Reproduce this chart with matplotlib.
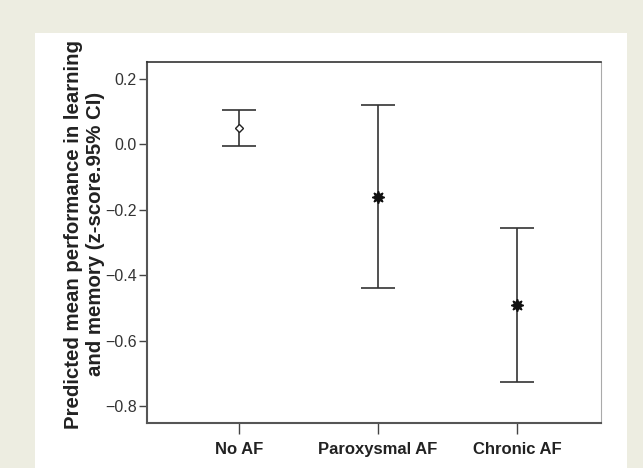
import matplotlib.pyplot as plt
import matplotlib.patches as mpatches

groups = ['No AF', 'Paroxysmal AF', 'Chronic AF']
means = [0.05, -0.16, -0.49]
upper = [0.105, 0.12, -0.255]
lower = [-0.005, -0.44, -0.727]
yticks = [0.2, 0.0, -0.2, -0.4, -0.6, -0.8]

plt.rcParams['font.family'] = ['Liberation Sans', 'DejaVu Sans']

fig = plt.figure(figsize=(6.43, 4.68), dpi=100)
fig.patch.set_facecolor('#edede1')
# white panel behind the chart
fig.patches.append(mpatches.Rectangle((35 / 643, 0), (627 - 35) / 643, (468 - 33) / 468,
                                      transform=fig.transFigure, facecolor='white',
                                      edgecolor='none', zorder=-10))

ax = fig.add_axes([147 / 643, 1 - 423 / 468, (601 - 147) / 643, (423 - 62) / 468])
ax.set_facecolor('white')
x = [1, 2, 3]
yerr = [[m - l for m, l in zip(means, lower)], [u - m for m, u in zip(means, upper)]]
ax.errorbar(x, means, yerr=yerr, fmt='none', ecolor='#333333', elinewidth=1.2,
            capsize=12, capthick=1.2)
ax.plot(x[0], means[0], marker='D', markersize=4.5, markerfacecolor='white',
        markeredgecolor='#222222', markeredgewidth=1, linestyle='none', zorder=3)
ax.plot(x[1:], means[1:], marker=(8, 1, 0), markersize=9, color='#111111',
        linestyle='none', zorder=3)

ax.set_xlim(0.338, 3.604)
ax.set_ylim(-0.852, 0.252)
ax.set_xticks(x)
ax.set_xticklabels(groups, fontsize=12, fontweight='bold', color='#222222')
ax.set_yticks(yticks)
ax.set_yticklabels(['0.2', '0.0', '\u22120.2', '\u22120.4', '\u22120.6', '\u22120.8'],
                   fontsize=11.5, color='#333333')
ax.tick_params(axis='x', length=8, width=1, color='#444444', pad=6)
ax.tick_params(axis='y', length=6, width=1, color='#444444', pad=1.5)

for side in ['left', 'bottom']:
    ax.spines[side].set_color('#555555')
    ax.spines[side].set_linewidth(1.5)
ax.spines['top'].set_color('#333333')
ax.spines['top'].set_linewidth(1.2)
ax.spines['right'].set_color('#aaaaaa')
ax.spines['right'].set_linewidth(0.8)

ax.set_ylabel('Predicted mean performance in learning\nand memory (z-score.95% CI)',
              fontsize=14.7, fontweight='bold', color='#222222', linespacing=1.2)
ax.yaxis.set_label_coords(-0.093, 0.523)

fig.savefig('out.png', dpi=100, facecolor=fig.get_facecolor())
